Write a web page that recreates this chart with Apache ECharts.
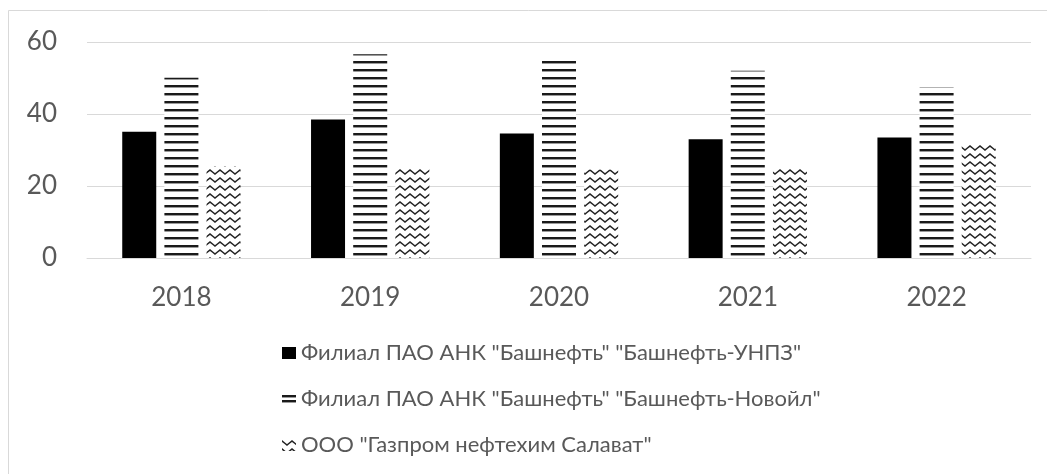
<!DOCTYPE html>
<html>
<head>
<meta charset="utf-8">
<script src="https://cdn.jsdelivr.net/npm/echarts@6/dist/echarts.min.js"></script>
<style>
html,body{margin:0;padding:0;background:#fff;}
#c{width:1047px;height:474px;}
</style>
</head>
<body>
<div id="c"></div>
<script>
const categories = ['2018', '2019', '2020', '2021', '2022'];
const seriesNames = [
  'Филиал ПАО АНК "Башнефть" "Башнефть-УНПЗ"',
  'Филиал ПАО АНК "Башнефть" "Башнефть-Новойл"',
  'ООО "Газпром нефтехим Салават"'
];
const unpzValues = [35.1, 38.5, 34.6, 33.0, 33.5];
const novoilValues = [50.1, 56.6, 55.5, 52.0, 47.4];
const salavatValues = [25.4, 25.3, 24.6, 25.2, 31.9];
const yTicks = [0, 20, 40, 60];

function stripePattern(period) {
  const c = document.createElement('canvas');
  c.width = 8; c.height = period;
  const g = c.getContext('2d');
  g.fillStyle = '#fff'; g.fillRect(0, 0, 8, period);
  g.fillStyle = '#1a1a1a'; g.fillRect(0, period - 3, 8, 2);
  g.fillStyle = '#9a9a9a'; g.fillRect(0, period - 1, 8, 1);
  return c;
}
function wavePattern() {
  const c = document.createElement('canvas');
  c.width = 10; c.height = 8;
  const g = c.getContext('2d');
  g.fillStyle = '#fff'; g.fillRect(0, 0, 10, 8);
  g.strokeStyle = '#222'; g.lineWidth = 1.6;
  g.beginPath();
  g.moveTo(-2.5, 4);
  g.lineTo(0, 2); g.lineTo(2.5, 4); g.lineTo(5, 6); g.lineTo(7.5, 4); g.lineTo(10, 2); g.lineTo(12.5, 4);
  g.stroke();
  return c;
}

const chart = echarts.init(document.getElementById('c'), null, {renderer: 'canvas'});
const font = 'Lato, "Open Sans", sans-serif';
chart.setOption({
  animation: false,
  backgroundColor: '#fff',
  graphic: [{
    type: 'rect', silent: true,
    shape: {x: 8.5, y: 10.5, width: 1100, height: 500},
    style: {fill: 'none', stroke: '#d9d9d9', lineWidth: 1}
  }],
  grid: {left: 87, right: 16, top: 42, bottom: 216, containLabel: false},
  legend: {
    orient: 'vertical', left: 277, top: 336,
    itemWidth: 14, itemHeight: 12, itemGap: 22,
    icon: 'rect',
    textStyle: {fontSize: 22, lineHeight: 24, color: '#595959', fontFamily: font},
    data: [
      {name: seriesNames[0]},
      {name: seriesNames[1], itemStyle: {color: {image: stripePattern(5), repeat: 'repeat'}}},
      {name: seriesNames[2]}
    ]
  },
  xAxis: {
    type: 'category', data: categories,
    axisLine: {lineStyle: {color: '#d9d9d9', width: 1}},
    axisTick: {show: false},
    axisLabel: {fontSize: 26, color: '#595959', fontFamily: font, margin: 27}
  },
  yAxis: {
    type: 'value', min: yTicks[0], max: yTicks[yTicks.length - 1], interval: 20,
    axisLine: {show: false}, axisTick: {show: false},
    splitLine: {lineStyle: {color: '#d9d9d9', width: 1}},
    axisLabel: {fontSize: 26, color: '#595959', fontFamily: font, margin: 30}
  },
  series: [
    {name: seriesNames[0], type: 'bar', data: unpzValues, barWidth: 34, barGap: '24%',
     itemStyle: {color: '#000'}},
    {name: seriesNames[1], type: 'bar', data: novoilValues, barWidth: 34, barGap: '24%',
     itemStyle: {color: {image: stripePattern(8), repeat: 'repeat'}}},
    {name: seriesNames[2], type: 'bar', data: salavatValues, barWidth: 34, barGap: '24%',
     itemStyle: {color: {image: wavePattern(), repeat: 'repeat'}}}
  ]
});
</script>
</body>
</html>
